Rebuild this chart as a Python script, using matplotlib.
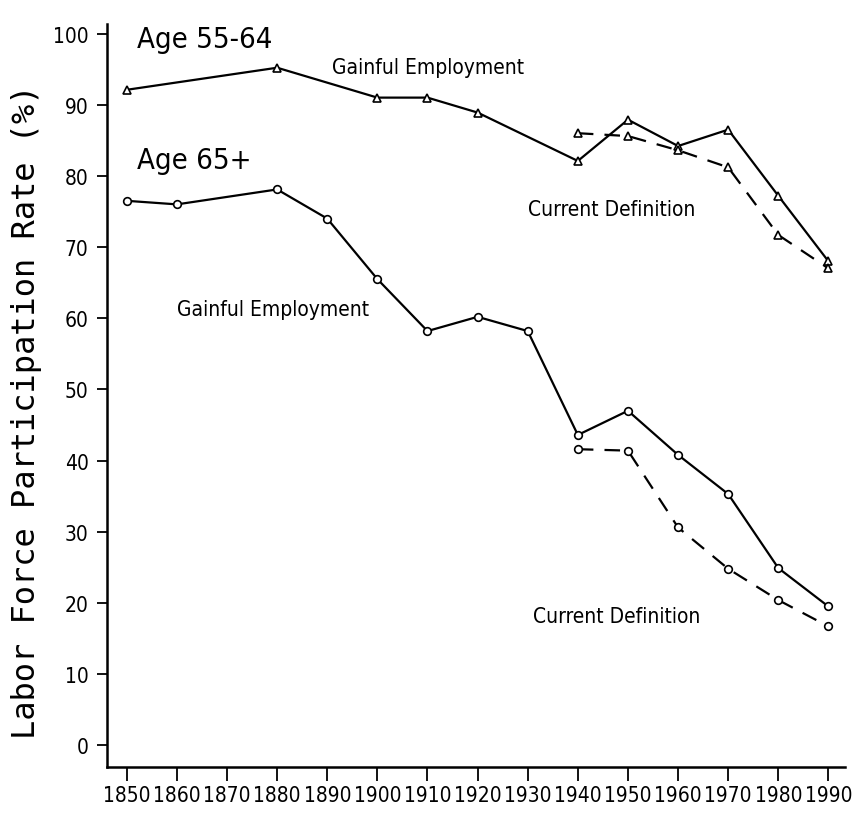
import matplotlib
matplotlib.use('Agg')
import matplotlib.pyplot as plt

# Census years
years_old = [1850, 1860, 1880, 1890, 1900, 1910, 1920, 1930, 1940, 1950, 1960, 1970, 1980, 1990]
years_mid = [1850, 1880, 1900, 1910, 1920, 1940, 1950, 1960, 1970, 1980, 1990]
years_cur = [1940, 1950, 1960, 1970, 1980, 1990]

# Age 55-64 (triangles)
gainful_5564 = [92.1, 95.2, 91.0, 91.0, 88.9, 82.1, 87.9, 84.2, 86.5, 77.2, 68.0]
current_5564 = [86.0, 85.6, 83.6, 81.2, 71.7, 67.0]

# Age 65+ (circles)
gainful_65 = [76.5, 76.0, 78.1, 74.0, 65.5, 58.2, 60.2, 58.2, 43.6, 47.0, 40.8, 35.3, 24.9, 19.5]
current_65 = [41.6, 41.4, 30.6, 24.8, 20.4, 16.7]

year_ticks = list(range(1850, 2000, 10))
rate_ticks = list(range(0, 110, 10))

fig = plt.figure(figsize=(8.54, 8.2), dpi=100)
ax = fig.add_axes([0.125, 0.063, 0.865, 0.907])

lw = 1.6
ax.plot(years_mid, gainful_5564, color='black', lw=lw, marker='^', ms=6, mfc='white', mew=1.2)
ax.plot(years_cur, current_5564, color='black', lw=lw, ls=(0, (7, 5)), marker='^', ms=6, mfc='white', mew=1.2)
ax.plot(years_old, gainful_65, color='black', lw=lw, marker='o', ms=5.5, mfc='white', mew=1.2)
ax.plot(years_cur, current_65, color='black', lw=lw, ls=(0, (7, 5)), marker='o', ms=5.5, mfc='white', mew=1.2)

ax.set_xlim(1846, 1993.4)
ax.set_ylim(-3.1, 101.4)
ax.set_xticks(year_ticks)
ax.set_xticklabels([str(y) for y in year_ticks], fontsize=15, fontstretch='condensed')
ax.set_yticks(rate_ticks)
ax.set_yticklabels([str(r) for r in rate_ticks], fontsize=15, fontstretch='condensed')
ax.tick_params(axis='x', length=10, width=1.3, pad=3)
ax.tick_params(axis='y', length=7, width=1.3, pad=6)
for side in ['top', 'right']:
    ax.spines[side].set_visible(False)
for side in ['left', 'bottom']:
    ax.spines[side].set_linewidth(1.8)

ax.set_ylabel('Labor Force Participation Rate (%)', fontsize=23, family='DejaVu Sans Mono')
ax.yaxis.set_label_coords(-0.087, 0.48)

# Text annotations
ax.text(1852, 99.2, 'Age 55-64', fontsize=21, va='center', fontstretch='condensed')
ax.text(1891, 95.3, 'Gainful Employment', fontsize=15, va='center', fontstretch='condensed')
ax.text(1852, 82.2, 'Age 65+', fontsize=21, va='center', fontstretch='condensed')
ax.text(1930, 75.3, 'Current Definition', fontsize=15, va='center', fontstretch='condensed')
ax.text(1860, 61.3, 'Gainful Employment', fontsize=15, va='center', fontstretch='condensed')
ax.text(1931, 18.2, 'Current Definition', fontsize=15, va='center', fontstretch='condensed')

fig.savefig('out.png', dpi=100)
